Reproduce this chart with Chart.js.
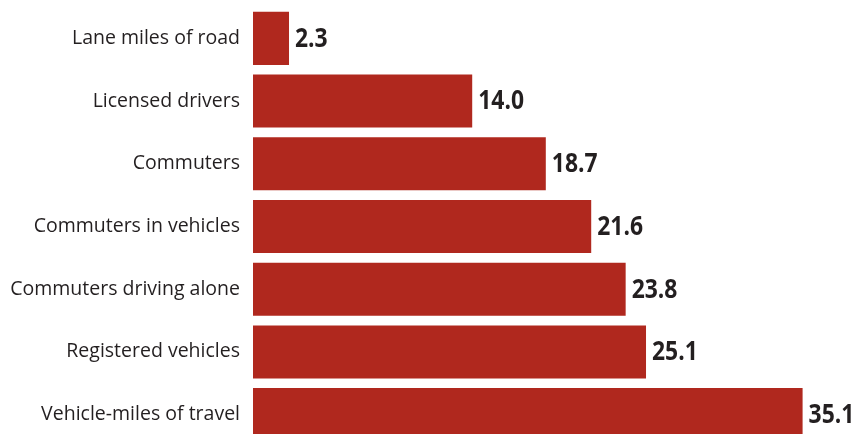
<!DOCTYPE html>
<html>
<head>
<meta charset="utf-8">
<script src="https://cdn.jsdelivr.net/npm/chart.js@4"></script>
<style>
    html, body { margin: 0; padding: 0; background: #fff; overflow: hidden; }
    canvas { display: block; }
</style>
</head>
<body>
<canvas id="growth" width="865" height="446"></canvas>
<script>
var categories = [
    "Lane miles of road",
    "Licensed drivers",
    "Commuters",
    "Commuters in vehicles",
    "Commuters driving alone",
    "Registered vehicles",
    "Vehicle-miles of travel"
];
var values = [2.3, 14.0, 18.7, 21.6, 23.8, 25.1, 35.1];

var bar_color = "#b0281e";
var text_color = "#231f20";

// draws the bold value next to each bar end (squeezed a bit, source font is condensed)
var value_labels = {
    id: "value_labels",
    afterDatasetsDraw: function(chart) {
        var ctx = chart.ctx;
        var meta = chart.getDatasetMeta(0);
        meta.data.forEach(function(bar, i) {
            ctx.save();
            ctx.translate(bar.x + 6, bar.y + 1);
            ctx.scale(0.88, 1);
            ctx.font = "bold 26px 'Open Sans'";
            ctx.fillStyle = text_color;
            ctx.textAlign = "left";
            ctx.textBaseline = "middle";
            ctx.fillText(values[i].toFixed(1), 0, 0);
            ctx.restore();
        });
    }
};

var ctx = document.getElementById("growth").getContext("2d");
var myChart = new Chart(ctx, {
    type: "bar",
    data: {
        labels: categories,
        datasets: [{
            data: values,
            backgroundColor: bar_color,
            borderWidth: 0,
            barPercentage: 0.846,
            categoryPercentage: 1.0
        }]
    },
    options: {
        indexAxis: "y",
        responsive: false,
        animation: false,
        layout: { padding: { top: 7, right: 17, bottom: 0, left: 0 } },
        plugins: {
            legend: { display: false },
            tooltip: { enabled: false }
        },
        scales: {
            x: {
                display: false,
                min: 0,
                max: 38
            },
            y: {
                afterFit: function(scale) {
                    scale.width = 253;
                    scale.paddingTop = 0;
                    scale.paddingBottom = 0;
                },
                border: { display: false },
                grid: { display: false, drawTicks: false },
                ticks: {
                    padding: 13,
                    color: text_color,
                    font: { family: "'Open Sans'", size: 19.5 }
                }
            }
        }
    },
    plugins: [value_labels]
});
</script>
</body>
</html>
